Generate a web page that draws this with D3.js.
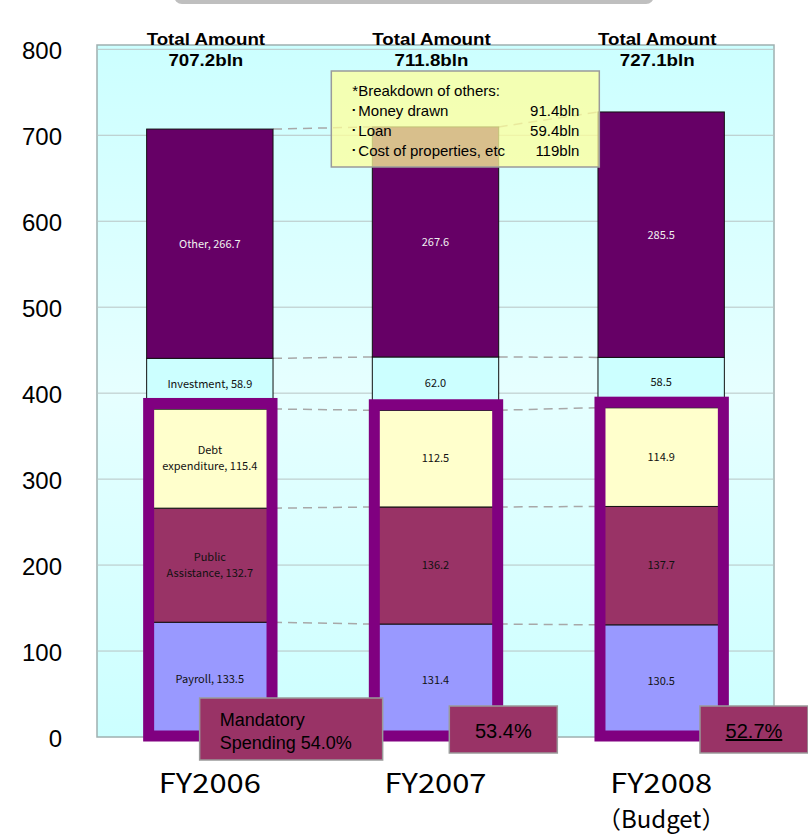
<!DOCTYPE html>
<html>
<head>
<meta charset="utf-8">
<script src="https://cdn.jsdelivr.net/npm/d3@7"></script>
<style>
  html, body { margin: 0; padding: 0; background: #fff; }
  svg { display: block; }
</style>
</head>
<body>
<div id="chart"></div>
<script>
// values in bln yen
const years = ["FY2006", "FY2007", "FY2008"];
const yearSub = ["", "", "（Budget）"];
const seriesKeys = ["payroll", "publicAssistance", "debt", "investment", "other"];
const payroll = [133.5, 131.4, 130.5];
const publicAssistance = [132.7, 136.2, 137.7];
const debt = [115.4, 112.5, 114.9];
const investment = [58.9, 62.0, 58.5];
const other = [266.7, 267.6, 285.5];
const totals = ["707.2bln", "711.8bln", "727.1bln"];
const mandatoryShare = ["54.0%", "53.4%", "52.7%"];
const yTicks = [0, 100, 200, 300, 400, 500, 600, 700, 800];
const firstYearNames = [["Payroll, "], ["Public", "Assistance, "], ["Debt", "expenditure, "], ["Investment, "], ["Other, "]];
const breakdownNames = ["Money drawn", "Loan", "Cost of properties, etc"];
const breakdownValues = ["91.4bln", "59.4bln", "119bln"];

const colors = {
    payroll: "#9999ff",
    publicAssistance: "#993366",
    debt: "#ffffcc",
    investment: "#ccffff",
    other: "#660066"
};

const width = 808, height = 834;
const plot = {left: 97, right: 774, top: 45, bottom: 737};

const rows = years.map((yr, i) => ({
    year: yr,
    payroll: payroll[i],
    publicAssistance: publicAssistance[i],
    debt: debt[i],
    investment: investment[i],
    other: other[i]
}));

const stacked = d3.stack().keys(seriesKeys)(rows);

const x = d3.scaleBand()
    .domain(years)
    .range([plot.left, plot.right])
    .paddingInner(0.44)
    .paddingOuter(0.22);

const y = d3.scaleLinear()
    .domain([0, 805])
    .range([plot.bottom, plot.top]);

const svg = d3.select("#chart").append("svg")
    .attr("width", width)
    .attr("height", height);

const defs = svg.append("defs");
const grad = defs.append("linearGradient")
    .attr("id", "bg")
    .attr("x1", 0).attr("y1", 0).attr("x2", 0).attr("y2", 1);
grad.append("stop").attr("offset", "0%").attr("stop-color", "#ccffff");
grad.append("stop").attr("offset", "50%").attr("stop-color", "#e6ffff");
grad.append("stop").attr("offset", "100%").attr("stop-color", "#ccffff");

// title box peeking in at the top
svg.append("rect")
    .attr("x", 174).attr("y", -30)
    .attr("width", 480).attr("height", 34)
    .attr("rx", 8)
    .attr("fill", "#bfbfbf");

// plot background
svg.append("rect")
    .attr("x", plot.left).attr("y", plot.top)
    .attr("width", plot.right - plot.left)
    .attr("height", plot.bottom - plot.top)
    .attr("fill", "url(#bg)")
    .attr("stroke", "#9fb0b0")
    .attr("stroke-width", 1.5);

// gridlines
svg.append("g")
    .selectAll("line")
    .data(yTicks.filter(d => d > 0))
    .join("line")
    .attr("x1", plot.left).attr("x2", plot.right)
    .attr("y1", d => y(d)).attr("y2", d => y(d))
    .attr("stroke", "#b8c4c4")
    .attr("stroke-width", 1);

// y tick labels
svg.append("g")
    .selectAll("text")
    .data(yTicks)
    .join("text")
    .attr("x", 62)
    .attr("y", d => y(d) + 1)
    .attr("dy", "0.38em")
    .attr("text-anchor", "end")
    .style("font-family", "'Liberation Sans', Arial, sans-serif")
    .style("font-size", "24px")
    .attr("fill", "#000")
    .text(d => d);

// dashed connectors between bars
const connectors = [];
stacked.forEach(layer => {
    for (let i = 0; i < years.length - 1; i++) {
        connectors.push({
            x1: x(years[i]) + x.bandwidth(),
            y1: y(layer[i][1]),
            x2: x(years[i + 1]),
            y2: y(layer[i + 1][1])
        });
    }
});
svg.append("g")
    .selectAll("line")
    .data(connectors)
    .join("line")
    .attr("x1", d => d.x1).attr("y1", d => d.y1)
    .attr("x2", d => d.x2).attr("y2", d => d.y2)
    .attr("stroke", "#a8a8a8")
    .attr("stroke-width", 1.5)
    .attr("stroke-dasharray", "9,6");

// stacked bars
const layers = svg.append("g")
    .selectAll("g")
    .data(stacked)
    .join("g")
    .attr("fill", d => colors[d.key]);

layers.selectAll("rect")
    .data(d => d)
    .join("rect")
    .attr("x", d => x(d.data.year))
    .attr("y", d => y(d[1]))
    .attr("width", x.bandwidth())
    .attr("height", d => y(d[0]) - y(d[1]))
    .attr("stroke", "#111")
    .attr("stroke-width", 1);

// mandatory spending frames (payroll + public assistance + debt)
svg.append("g")
    .selectAll("rect")
    .data(stacked[2])
    .join("rect")
    .attr("x", d => x(d.data.year) + 2)
    .attr("y", d => y(d[1]) - 5.5)
    .attr("width", x.bandwidth() - 3)
    .attr("height", d => y(0) - y(d[1]) + 4.5)
    .attr("fill", "none")
    .attr("stroke", "#800080")
    .attr("stroke-width", 11);

// segment labels
const segLabels = [];
stacked.forEach((layer, k) => {
    layer.forEach((d, i) => {
        const val = d.data[layer.key].toFixed(1);
        let lines;
        if (i === 0) {
            lines = firstYearNames[k].slice();
            lines[lines.length - 1] = lines[lines.length - 1] + val;
        } else {
            lines = [val];
        }
        segLabels.push({
            cx: x(d.data.year) + x.bandwidth() / 2,
            cy: (y(d[0]) + y(d[1])) / 2,
            lines: lines,
            color: layer.key === "other" ? "#f0f0f0" : "#111"
        });
    });
});

const segText = svg.append("g")
    .selectAll("text")
    .data(segLabels)
    .join("text")
    .attr("text-anchor", "middle")
    .style("font-family", "'Noto Sans CJK JP', 'Noto Sans', sans-serif")
    .style("font-size", "11px")
    .attr("fill", d => d.color);

segText.selectAll("tspan")
    .data(d => d.lines.map((t, j) => ({t, j, n: d.lines.length, cx: d.cx, cy: d.cy})))
    .join("tspan")
    .attr("x", d => d.cx)
    .attr("y", d => d.cy + (d.j - (d.n - 1) / 2) * 16)
    .attr("dy", "0.35em")
    .text(d => d.t);

// total amount labels (slightly stretched like the original)
const totalG = svg.append("g")
    .style("font-family", "'Liberation Sans', Arial, sans-serif")
    .style("font-weight", "bold")
    .style("font-size", "16px")
    .attr("text-anchor", "middle");

totalG.selectAll("text.t1")
    .data(years)
    .join("text")
    .attr("class", "t1")
    .attr("transform", d => `translate(${x(d) + x.bandwidth() / 2 - 4},45) scale(1.17,1.05)`)
    .text("Total Amount");

totalG.selectAll("text.t2")
    .data(years)
    .join("text")
    .attr("class", "t2")
    .attr("transform", d => `translate(${x(d) + x.bandwidth() / 2 - 4},66) scale(1.17,1.05)`)
    .text((d, i) => totals[i]);

// breakdown note box
const note = svg.append("g")
    .attr("transform", `translate(${x(years[1]) - 41},71)`);
note.append("rect")
    .attr("width", 268).attr("height", 96)
    .attr("fill", "#ffff99")
    .attr("fill-opacity", 0.75)
    .attr("stroke", "#9a9a9a")
    .attr("stroke-width", 1.5);
note.append("text")
    .attr("x", 21).attr("y", 25)
    .style("font-family", "'Liberation Sans', Arial, sans-serif")
    .style("font-size", "15px")
    .text("*Breakdown of others:");
note.selectAll("text.nm")
    .data(breakdownNames)
    .join("text")
    .attr("class", "nm")
    .attr("x", 19)
    .attr("y", (d, i) => 45 + i * 20)
    .style("font-family", "'Liberation Sans', Arial, sans-serif")
    .style("font-size", "15px")
    .text(d => "･" + d);
note.selectAll("text.vl")
    .data(breakdownValues)
    .join("text")
    .attr("class", "vl")
    .attr("x", 248)
    .attr("y", (d, i) => 45 + i * 20)
    .attr("text-anchor", "end")
    .style("font-family", "'Liberation Sans', Arial, sans-serif")
    .style("font-size", "15px")
    .text(d => d);

// mandatory spending share boxes
const shareLayout = [
    {dx: 53, y: 698, w: 183, h: 62},
    {dx: 77, y: 706, w: 108, h: 47},
    {dx: 102, y: 706, w: 108, h: 47}
];
const shares = svg.append("g")
    .selectAll("g")
    .data(years)
    .join("g")
    .attr("transform", (d, i) => `translate(${x(d) + shareLayout[i].dx},${shareLayout[i].y})`);

shares.append("rect")
    .attr("width", (d, i) => shareLayout[i].w)
    .attr("height", (d, i) => shareLayout[i].h)
    .attr("fill", "#993366")
    .attr("stroke", "#9a9a9a")
    .attr("stroke-width", 1.5);

shares.each(function (d, i) {
    const g = d3.select(this);
    const t = g.append("text")
        .style("font-family", "'Liberation Sans', Arial, sans-serif")
        .attr("fill", "#000");
    if (i === 0) {
        t.style("font-size", "18px");
        t.append("tspan").attr("x", 20).attr("y", 28).text("Mandatory");
        t.append("tspan").attr("x", 20).attr("y", 51).text("Spending " + mandatoryShare[i]);
    } else {
        t.attr("x", shareLayout[i].w / 2)
            .attr("y", 32)
            .attr("text-anchor", "middle")
            .style("font-size", "20px")
            .style("text-decoration", i === 2 ? "underline" : "none")
            .text(mandatoryShare[i]);
    }
});

// x axis labels
const xl = svg.append("g")
    .style("font-family", "'Noto Sans CJK JP', 'Noto Sans', sans-serif")
    .style("font-size", "27px")
    .attr("text-anchor", "middle")
    .attr("fill", "#000");

xl.selectAll("text.yr")
    .data(years)
    .join("text")
    .attr("class", "yr")
    .attr("x", d => x(d) + x.bandwidth() / 2)
    .attr("y", 793)
    .attr("textLength", 102)
    .attr("lengthAdjust", "spacingAndGlyphs")
    .text(d => d);

xl.selectAll("text.sub")
    .data(years)
    .join("text")
    .attr("class", "sub")
    .attr("x", d => x(d) + x.bandwidth() / 2)
    .attr("y", 828)
    .style("font-size", "24px")
    .text((d, i) => yearSub[i]);
</script>
</body>
</html>
